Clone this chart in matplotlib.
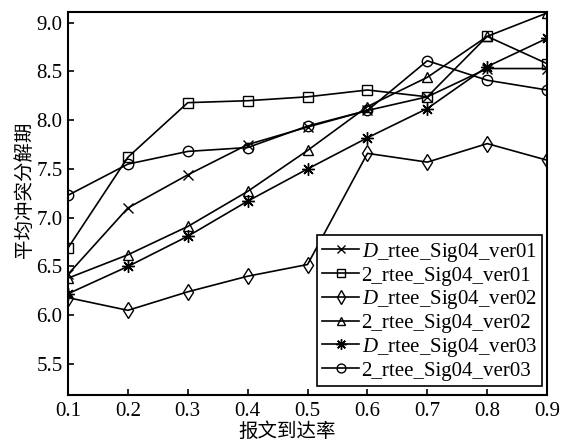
import matplotlib
matplotlib.use("Agg")
import matplotlib.pyplot as plt

plt.rcParams['font.family'] = ['Liberation Serif', 'Noto Sans CJK SC']
plt.rcParams['mathtext.fontset'] = 'custom'
plt.rcParams['mathtext.it'] = 'Liberation Serif:italic'
plt.rcParams['mathtext.rm'] = 'Liberation Serif'

x = [0.1, 0.2, 0.3, 0.4, 0.5, 0.6, 0.7, 0.8, 0.9]
labels = [r'$D$_rtee_Sig04_ver01', '2_rtee_Sig04_ver01',
          r'$D$_rtee_Sig04_ver02', '2_rtee_Sig04_ver02',
          r'$D$_rtee_Sig04_ver03', '2_rtee_Sig04_ver03']
d_ver01 = [6.42, 7.10, 7.44, 7.75, 7.93, 8.10, 8.24, 8.53, 8.53]
r2_ver01 = [6.69, 7.62, 8.18, 8.20, 8.24, 8.31, 8.24, 8.86, 8.58]
d_ver02 = [6.18, 6.05, 6.24, 6.40, 6.52, 7.66, 7.57, 7.76, 7.59]
r2_ver02 = [6.38, 6.62, 6.91, 7.27, 7.69, 8.14, 8.44, 8.86, 9.10]
d_ver03 = [6.22, 6.50, 6.81, 7.17, 7.50, 7.82, 8.12, 8.55, 8.84]
r2_ver03 = [7.23, 7.55, 7.68, 7.72, 7.94, 8.10, 8.61, 8.41, 8.31]
series = [d_ver01, r2_ver01, d_ver02, r2_ver02, d_ver03, r2_ver03]
markers = ['x', 's', 'd', '^', (8, 2, 0), 'o']
sizes = [7, 6.5, 8, 7, 9, 7.5]
xticks = [0.1, 0.2, 0.3, 0.4, 0.5, 0.6, 0.7, 0.8, 0.9]
yticks = [5.5, 6.0, 6.5, 7.0, 7.5, 8.0, 8.5, 9.0]

fig = plt.figure(figsize=(5.64, 4.44), dpi=100)
ax = fig.add_axes([0.1206, 0.110, 0.8494, 0.863])
for ys, m, ms, lab in zip(series, markers, sizes, labels):
    ax.plot(x, ys, color='black', lw=1.2, marker=m, markersize=ms,
            markerfacecolor='none', markeredgecolor='black', markeredgewidth=1.0,
            label=lab)

ax.set_xlim(0.1, 0.9)
ax.set_ylim(5.18, 9.11)
ax.set_xticks(xticks)
ax.set_yticks(yticks)
ax.set_xticklabels([f'{v:.1f}' for v in xticks])
ax.set_yticklabels([f'{v:.1f}' for v in yticks])
ax.tick_params(direction='in', labelsize=15, length=4, width=1.2, pad=5)
ax.tick_params(axis='y', pad=4)
for s in ax.spines.values():
    s.set_linewidth(1.5)

ax.set_xlabel('报文到达率', fontsize=14, family=['Noto Sans CJK SC'], labelpad=0)
ax.set_ylabel('平均冲突分解期', fontsize=14, family=['Noto Sans CJK SC'], labelpad=1)
ax.xaxis.label.set_x(0.457)
ax.yaxis.label.set_y(0.535)

leg = ax.legend(loc='lower right', bbox_to_anchor=(0.9896, 0.024), fontsize=15,
                frameon=True, fancybox=False, edgecolor='black', framealpha=1,
                handlelength=1.8, handletextpad=0.1, labelspacing=0.12,
                borderpad=0.25, borderaxespad=0, markerscale=0.85)
leg.get_frame().set_linewidth(1.2)

fig.savefig('out.png', dpi=100)
